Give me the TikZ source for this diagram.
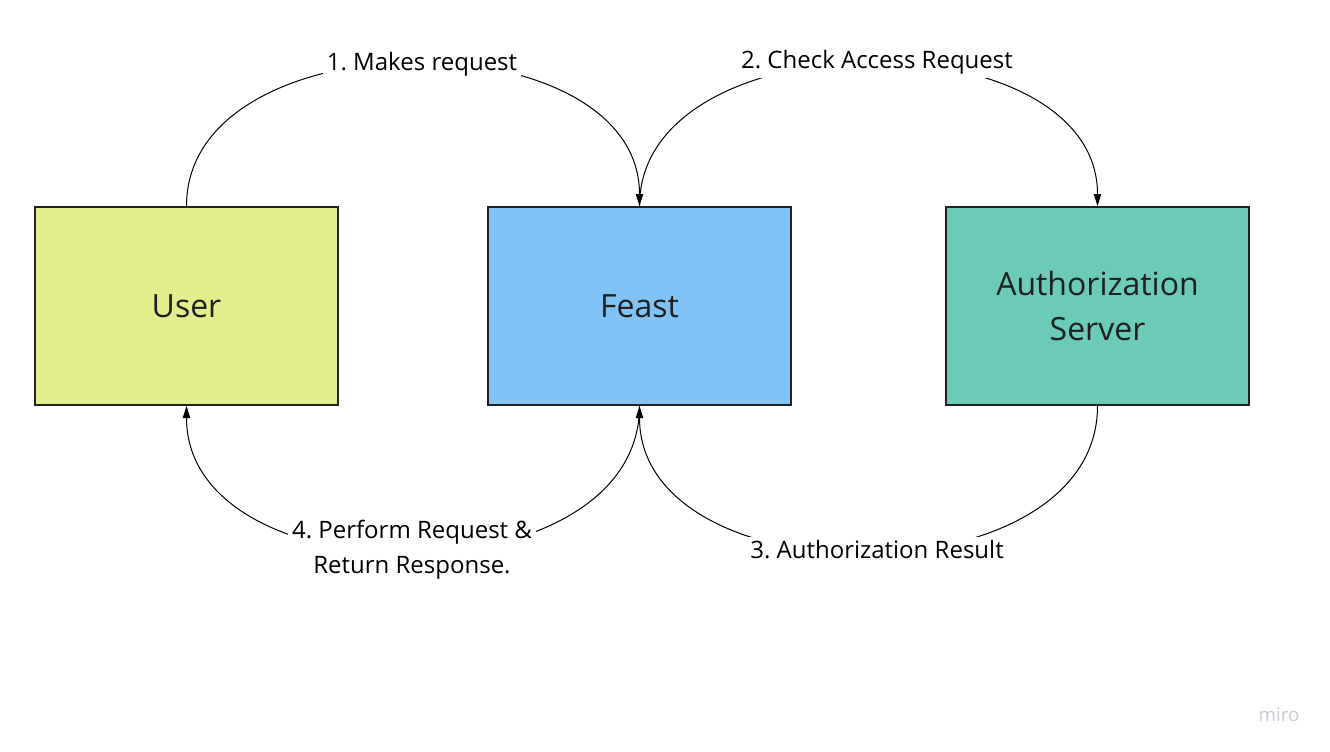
\documentclass[tikz,border=0pt]{standalone}
\usepackage{fontspec}
\setmainfont{Open Sans}
\usetikzlibrary{arrows.meta}
\frenchspacing

\definecolor{userfill}{HTML}{E1EE8B}
\definecolor{feastfill}{HTML}{81C3F6}
\definecolor{authfill}{HTML}{6CCAB9}
\definecolor{boxline}{HTML}{222222}
\definecolor{mirogray}{HTML}{C8CBD3}

\tikzstyle{box} = [draw=boxline, line width=1.5pt, minimum width=227pt, minimum height=148.5pt, align=center, text=black!88, font=\fontsize{24}{33.75}\selectfont]
\tikzstyle{lbl} = [fill=white, align=center, inner sep=3pt, font=\fontsize{18}{26.25}\selectfont]
\tikzstyle{flow} = [line width=0.75pt, -{Triangle[length=9pt, width=5.5pt]}]

\begin{document}
\begin{tikzpicture}[x=0.75pt, y=-0.75pt]
\useasboundingbox (0,0) rectangle (1330,751);

% the three parties
\node[box, fill=userfill] (user) at (186.5,306) {User};
\node[box, fill=feastfill] (feast) at (639.5,306) {Feast};
\node[box, fill=authfill] (auth) at (1097.5,306) {Authorization\\Server};

% requests over the top
\draw[flow] (user.north) .. controls +(0,-190) and +(0,-190) .. (feast.north);
\draw[flow] (feast.north) .. controls +(0,-190) and +(0,-190) .. (auth.north);

% answers underneath
\draw[flow] (auth.south) .. controls +(0,195) and +(0,195) .. (feast.south);
\draw[flow] (feast.south) .. controls +(0,195) and +(0,195) .. (user.south);

% step labels
\node[lbl] (step1) at (422,64) {1. Makes request};
\node[lbl] (step2) at (877,62) {2. Check Access Request};
\node[lbl] (step3) at (877,550) {3. Authorization Result};
\node[lbl] (step4) at (412,550) {4. Perform Request \&\\Return Response.};

\node[text=mirogray, font=\fontsize{14}{16}\selectfont] (miro) at (1279,715) {miro};
\end{tikzpicture}
\end{document}
